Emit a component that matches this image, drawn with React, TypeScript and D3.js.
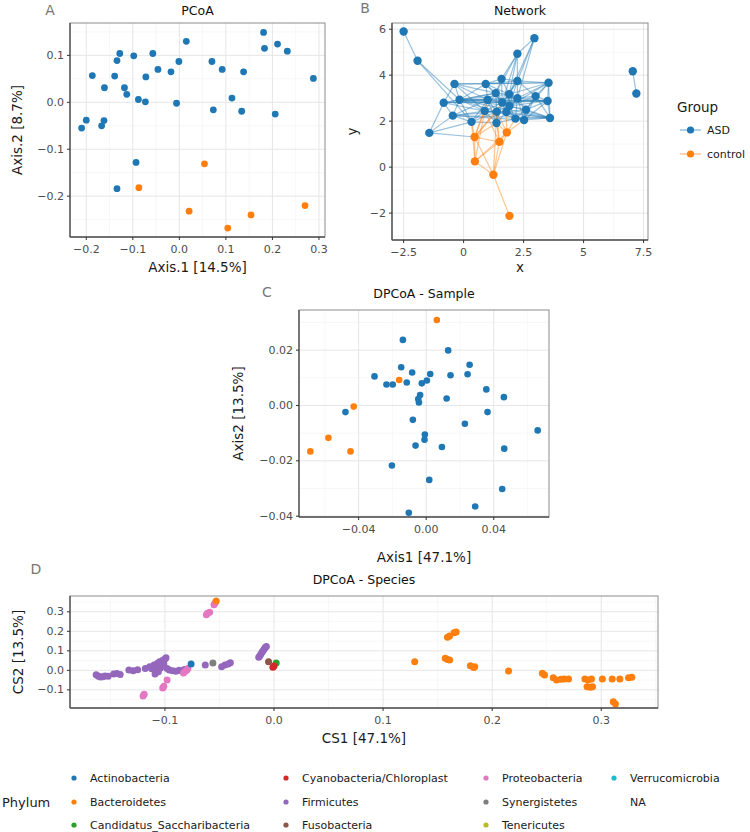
import React from "react";
import * as d3 from "d3";

const BLUE = "#1f77b4";
const ORANGE = "#ff7f0e";
const FONT = "DejaVu Sans, sans-serif";

// ---- A: PCoA ----
const pcoaASD: [number, number][] = [
  [-0.21, -0.055], [-0.2, -0.038], [-0.187, 0.057], [-0.167, -0.05], [-0.162, -0.039],
  [-0.161, 0.031], [-0.139, 0.056], [-0.134, 0.089], [-0.128, 0.104], [-0.118, 0.031],
  [-0.113, 0.017], [-0.098, 0.099], [-0.088, 0.006], [-0.073, 0.001], [-0.072, 0.054],
  [-0.057, 0.104], [-0.046, 0.07], [-0.018, 0.065], [-0.006, -0.002], [-0.001, 0.087],
  [0.015, 0.13], [0.07, 0.087], [0.073, -0.016], [0.092, 0.07], [0.113, 0.009],
  [0.134, -0.019], [0.138, 0.065], [0.181, 0.149], [0.183, 0.115], [0.206, -0.025],
  [0.211, 0.124], [0.232, 0.109], [0.288, 0.051], [-0.093, -0.128], [-0.134, -0.184],
];
const pcoaControl: [number, number][] = [
  [-0.087, -0.182], [0.054, -0.131], [0.021, -0.232], [0.104, -0.268], [0.154, -0.24], [0.27, -0.22],
];
const pcoaXTicks = [-0.2, -0.1, 0, 0.1, 0.2, 0.3];
const pcoaYTicks = [-0.2, -0.1, 0, 0.1];

// ---- B: Network ----
const netNodes: [number, number, string][] = [
  [-2.5, 5.9, "ASD"], [-1.92, 4.63, "ASD"], [-1.43, 1.49, "ASD"], [-0.38, 3.62, "ASD"],
  [-0.83, 2.8, "ASD"], [-0.17, 2.93, "ASD"], [-0.45, 2.24, "ASD"], [0.33, 1.97, "ASD"],
  [0.92, 3.62, "ASD"], [1.58, 3.84, "ASD"], [2.24, 3.75, "ASD"], [2.24, 4.93, "ASD"],
  [2.95, 5.61, "ASD"], [3.54, 3.67, "ASD"], [3.0, 3.09, "ASD"], [3.5, 2.88, "ASD"],
  [3.6, 2.14, "ASD"], [1.34, 3.22, "ASD"], [1.9, 3.17, "ASD"], [2.24, 3.0, "ASD"],
  [1.0, 2.93, "ASD"], [1.61, 2.81, "ASD"], [0.88, 2.44, "ASD"], [1.38, 2.41, "ASD"],
  [1.78, 2.4, "ASD"], [2.6, 2.5, "ASD"], [2.52, 2.05, "ASD"], [2.16, 2.11, "ASD"],
  [1.37, 1.92, "ASD"], [1.91, 2.66, "ASD"], [7.05, 4.17, "ASD"], [7.2, 3.2, "ASD"],
  [0.46, 1.31, "control"], [1.8, 1.51, "control"], [1.49, 1.1, "control"],
  [0.47, 0.25, "control"], [1.24, -0.33, "control"], [1.91, -2.12, "control"],
];
const netEdges: [number, number][] = [
  [0, 1], [1, 5], [1, 7], [2, 7], [2, 6], [2, 4], [2, 32],
  [3, 4], [3, 5], [3, 8], [3, 20], [3, 17], [3, 22], [3, 13],
  [4, 5], [4, 6], [4, 20], [4, 17], [4, 22], [4, 21], [4, 15],
  [5, 6], [5, 7], [5, 8], [5, 20], [5, 17], [5, 18], [5, 21], [5, 22], [5, 23], [5, 29], [5, 19], [5, 15], [5, 16],
  [6, 7], [6, 22], [6, 20], [6, 23], [6, 16], [6, 26],
  [7, 22], [7, 28], [7, 23], [7, 20],
  [8, 9], [8, 17], [8, 20], [8, 21], [8, 18], [8, 10], [8, 13],
  [9, 10], [9, 17], [9, 18], [9, 21], [9, 11],
  [10, 13], [10, 18], [10, 19], [10, 14], [10, 29], [10, 11], [10, 21],
  [11, 12], [11, 18], [11, 17], [11, 21], [12, 18], [12, 19], [12, 10],
  [13, 14], [13, 15], [13, 16], [13, 19], [13, 29], [13, 18], [13, 25],
  [14, 15], [14, 16], [14, 19], [14, 25], [14, 29], [14, 26],
  [15, 16], [15, 25], [15, 19], [15, 29], [15, 26], [15, 21],
  [16, 25], [16, 26], [16, 27], [16, 24], [16, 29],
  [17, 18], [17, 20], [17, 21], [17, 22], [17, 23], [17, 29], [17, 24],
  [18, 19], [18, 21], [18, 29], [18, 24], [18, 25],
  [19, 29], [19, 25], [19, 26], [19, 27], [19, 24],
  [20, 21], [20, 22], [20, 23], [20, 28], [20, 15],
  [21, 22], [21, 23], [21, 24], [21, 29], [21, 27], [21, 28],
  [22, 23], [22, 28], [22, 24], [22, 16],
  [23, 24], [23, 28], [23, 27], [23, 29],
  [24, 27], [24, 29], [24, 28], [24, 25], [24, 26],
  [25, 26], [25, 27], [25, 29], [26, 27], [27, 28], [27, 29], [30, 31],
  [32, 22], [32, 23], [32, 28], [32, 21], [32, 20], [32, 7], [32, 34], [32, 36], [32, 35],
  [33, 28], [33, 23], [33, 24], [33, 27], [33, 26], [33, 34], [33, 35], [33, 36],
  [34, 28], [34, 23], [34, 22], [34, 35], [34, 36],
  [35, 36], [35, 7], [35, 22], [36, 37], [36, 23],
];
const netXTicks = [-2.5, 0, 2.5, 5, 7.5];
const netYTicks = [-2, 0, 2, 4, 6];
const groups = ["ASD", "control"];

// ---- C: DPCoA - Sample ----
const dpcoaASD: [number, number][] = [
  [-0.0478, -0.0024], [-0.0306, 0.0105], [-0.0235, 0.0076], [-0.0198, 0.0076], [-0.0203, -0.0217],
  [-0.0138, 0.0237], [-0.0148, 0.0138], [-0.0115, 0.0083], [-0.0083, 0.0119], [-0.0079, -0.0052],
  [-0.0063, -0.0145], [-0.0047, 0.0023], [-0.0043, 0.0011], [-0.0036, 0.0038], [-0.0026, 0.008],
  [0.0004, 0.009], [0.0024, 0.0114], [-0.0008, -0.0105], [-0.001, -0.0124], [0.0018, -0.0269],
  [-0.0103, -0.0388], [0.0093, -0.015], [0.013, 0.0199], [0.0144, 0.0109], [0.0121, 0.0025],
  [0.0245, 0.0113], [0.0257, 0.0147], [0.0229, -0.0066], [0.029, -0.0365], [0.0356, 0.0058],
  [0.0363, -0.0024], [0.046, 0.003], [0.0462, -0.0156], [0.045, -0.0302], [0.066, -0.009],
];
const dpcoaControl: [number, number][] = [
  [0.0063, 0.0309], [-0.016, 0.0092], [-0.0429, -0.0004], [-0.0579, -0.0117], [-0.0686, -0.0166], [-0.0448, -0.0166],
];
const dpcoaXTicks = [-0.04, 0, 0.04];
const dpcoaYTicks = [-0.04, -0.02, 0, 0.02];

// ---- D: DPCoA - Species ----
const phyla = [
  "Actinobacteria", "Bacteroidetes", "Candidatus_Saccharibacteria", "Cyanobacteria/Chloroplast",
  "Firmicutes", "Fusobacteria", "Proteobacteria", "Synergistetes", "Tenericutes", "Verrucomicrobia", "NA",
];
const spActinobacteria: [number, number][] = [[-0.076, 0.032]];
const spBacteroidetes: [number, number][] = [
  [-0.053, 0.356], [0.129, 0.044], [0.159, 0.169], [0.161, 0.176], [0.165, 0.193], [0.167, 0.197],
  [0.157, 0.062], [0.159, 0.056], [0.161, 0.053], [0.18, 0.024], [0.183, 0.015], [0.184, 0.019],
  [0.215, -0.003], [0.246, -0.015], [0.248, -0.024], [0.256, -0.038], [0.259, -0.05], [0.263, -0.046],
  [0.266, -0.044], [0.27, -0.044], [0.285, -0.044], [0.288, -0.05], [0.291, -0.044], [0.287, -0.084],
  [0.29, -0.087], [0.292, -0.084], [0.301, -0.044], [0.31, -0.044], [0.317, -0.044], [0.325, -0.038],
  [0.328, -0.036], [0.311, -0.161], [0.313, -0.173],
];
const spCandidatus: [number, number][] = [[0.002, 0.038]];
const spCyanobacteria: [number, number][] = [[-0.001, 0.016], [0.0, 0.022]];
const spFirmicutes: [number, number][] = [
  [-0.163, -0.022], [-0.161, -0.03], [-0.159, -0.034], [-0.157, -0.033], [-0.155, -0.029], [-0.152, -0.03],
  [-0.147, -0.019], [-0.144, -0.016], [-0.141, -0.021], [-0.133, 0.002], [-0.129, -0.002], [-0.125, 0.003],
  [-0.118, 0.01], [-0.114, 0.018], [-0.11, 0.027], [-0.107, 0.035], [-0.105, 0.044], [-0.102, 0.052],
  [-0.1, 0.058], [-0.099, 0.064], [-0.112, 0.008], [-0.108, 0.004], [-0.106, -0.007], [-0.109, -0.019],
  [-0.104, 0.012], [-0.103, 0.022], [-0.101, 0.033], [-0.098, 0.01], [-0.096, 0.002], [-0.093, -0.002],
  [-0.09, -0.005], [-0.087, 0.0], [-0.085, -0.002], [-0.082, 0.004], [-0.08, 0.002],
  [-0.063, 0.027], [-0.048, 0.019], [-0.045, 0.027], [-0.042, 0.033], [-0.04, 0.039],
  [-0.014, 0.067], [-0.013, 0.074], [-0.012, 0.084], [-0.011, 0.093], [-0.01, 0.101], [-0.009, 0.11],
  [-0.008, 0.117], [-0.007, 0.122],
];
const spFusobacteria: [number, number][] = [[-0.005, 0.044]];
const spProteobacteria: [number, number][] = [
  [-0.079, 0.01], [-0.081, -0.004], [-0.083, -0.014], [-0.098, -0.05], [-0.101, -0.082], [-0.102, -0.09],
  [-0.119, -0.122], [-0.12, -0.132], [-0.062, 0.285], [-0.061, 0.292], [-0.059, 0.298], [-0.055, 0.336], [-0.054, 0.345],
];
const spSynergistetes: [number, number][] = [[-0.056, 0.038]];
const speciesByPhylum: [string, [number, number][]][] = [
  ["Firmicutes", spFirmicutes],
  ["Proteobacteria", spProteobacteria],
  ["Bacteroidetes", spBacteroidetes],
  ["Actinobacteria", spActinobacteria],
  ["Synergistetes", spSynergistetes],
  ["Fusobacteria", spFusobacteria],
  ["Candidatus_Saccharibacteria", spCandidatus],
  ["Cyanobacteria/Chloroplast", spCyanobacteria],
];
const speciesXTicks = [-0.1, 0, 0.1, 0.2, 0.3];
const speciesYTicks = [-0.1, 0, 0.1, 0.2, 0.3];

const phylumColor = d3.scaleOrdinal<string, string>().domain(phyla).range(d3.schemeCategory10);
const groupColor = d3.scaleOrdinal<string, string>().domain(groups).range([BLUE, ORANGE]);

function minorOf(ticks: number[], dom: [number, number]) {
  const step = ticks[1] - ticks[0];
  const out: number[] = [];
  const lo = Math.min(...dom), hi = Math.max(...dom);
  for (let v = ticks[0] - step / 2; v >= lo; v -= step) out.push(v);
  for (let v = ticks[0] + step / 2; v <= hi; v += step) out.push(v);
  return out;
}

type Box = { l: number; r: number; t: number; b: number };
type PanelProps = {
  box: Box;
  xDomain: [number, number];
  yDomain: [number, number];
  xTicks: number[];
  yTicks: number[];
  xFmt: (v: number) => string;
  yFmt: (v: number) => string;
  title: string;
  titleY: number;
  letter: string;
  letterX: number;
  letterY: number;
  xTitle: string;
  xTitleY: number;
  yTitle: string;
  yTitleX: number;
  render: (x: d3.ScaleLinear<number, number>, y: d3.ScaleLinear<number, number>) => React.ReactNode;
};

function Panel(p: PanelProps) {
  const { box } = p;
  const x = d3.scaleLinear().domain(p.xDomain).range([box.l, box.r]);
  const y = d3.scaleLinear().domain(p.yDomain).range([box.b, box.t]);
  const xMinor = minorOf(p.xTicks, p.xDomain);
  const yMinor = minorOf(p.yTicks, p.yDomain);
  const cx = (box.l + box.r) / 2;
  const cy = (box.t + box.b) / 2;
  const clipId = "clip-" + p.letter;
  return (
    <g>
      <clipPath id={clipId}>
        <rect x={box.l} y={box.t} width={box.r - box.l} height={box.b - box.t} />
      </clipPath>
      <rect x={box.l} y={box.t} width={box.r - box.l} height={box.b - box.t} fill="#fff" />
      {xMinor.map((v) => (
        <line key={"xm" + v} x1={x(v)} x2={x(v)} y1={box.t} y2={box.b} stroke="#f2f2f2" strokeWidth={0.6} />
      ))}
      {yMinor.map((v) => (
        <line key={"ym" + v} y1={y(v)} y2={y(v)} x1={box.l} x2={box.r} stroke="#f2f2f2" strokeWidth={0.6} />
      ))}
      {p.xTicks.map((v) => (
        <line key={"xg" + v} x1={x(v)} x2={x(v)} y1={box.t} y2={box.b} stroke="#e6e6e6" strokeWidth={1} />
      ))}
      {p.yTicks.map((v) => (
        <line key={"yg" + v} y1={y(v)} y2={y(v)} x1={box.l} x2={box.r} stroke="#e6e6e6" strokeWidth={1} />
      ))}
      <g clipPath={`url(#${clipId})`}>{p.render(x, y)}</g>
      <rect x={box.l} y={box.t} width={box.r - box.l} height={box.b - box.t} fill="none" stroke="#8c8c8c" strokeWidth={1} />
      <line x1={box.l} x2={box.l} y1={box.t} y2={box.b} stroke="#555" strokeWidth={1.4} />
      <line x1={box.l} x2={box.r} y1={box.b} y2={box.b} stroke="#555" strokeWidth={1.4} />
      {p.xTicks.map((v) => (
        <g key={"xt" + v}>
          <line x1={x(v)} x2={x(v)} y1={box.b} y2={box.b + 3} stroke="#333" />
          <text x={x(v)} y={box.b + 12} textAnchor="middle" dominantBaseline="central" fontSize={11} fill="#4d4d4d">
            {p.xFmt(v)}
          </text>
        </g>
      ))}
      {p.yTicks.map((v) => (
        <g key={"yt" + v}>
          <line x1={box.l - 3} x2={box.l} y1={y(v)} y2={y(v)} stroke="#333" />
          <text x={box.l - 6} y={y(v)} textAnchor="end" dominantBaseline="central" fontSize={11} fill="#4d4d4d">
            {p.yFmt(v)}
          </text>
        </g>
      ))}
      <text x={cx} y={p.titleY} textAnchor="middle" dominantBaseline="central" fontSize={12.5} fill="#111">
        {p.title}
      </text>
      <text x={p.letterX} y={p.letterY} textAnchor="middle" dominantBaseline="central" fontSize={14} fill="#777">
        {p.letter}
      </text>
      <text x={cx} y={p.xTitleY} textAnchor="middle" dominantBaseline="central" fontSize={13.5} fill="#1a1a1a">
        {p.xTitle}
      </text>
      <text
        transform={`translate(${p.yTitleX},${cy}) rotate(-90)`}
        textAnchor="middle"
        dominantBaseline="central"
        fontSize={13.5}
        fill="#1a1a1a"
      >
        {p.yTitle}
      </text>
    </g>
  );
}

const f1 = d3.format(".1f");
const f2 = d3.format(".2f");
const fNet = (v: number) => (Number.isInteger(v) ? d3.format("d")(v) : d3.format(".1f")(v));

export default function App() {
  const legendRows = [778, 802, 825];
  const legendCols = [74, 286, 486, 614];
  return (
    <svg
      width={750}
      height={832}
      style={{ position: "absolute", left: 0, top: 0, background: "#fff" }}
      fontFamily={FONT}
    >
      <rect width={750} height={832} fill="#fff" />

      <Panel
        box={{ l: 70, r: 325, t: 23, b: 237 }}
        xDomain={[-0.235, 0.313]}
        yDomain={[-0.287, 0.169]}
        xTicks={pcoaXTicks}
        yTicks={pcoaYTicks}
        xFmt={f1}
        yFmt={f1}
        title="PCoA"
        titleY={10}
        letter="A"
        letterX={50}
        letterY={10}
        xTitle="Axis.1   [14.5%]"
        xTitleY={267}
        yTitle="Axis.2  [8.7%]"
        yTitleX={17}
        render={(x, y) => (
          <g>
            {pcoaASD.map((d, i) => (
              <circle key={"a" + i} cx={x(d[0])} cy={y(d[1])} r={3.4} fill={BLUE} />
            ))}
            {pcoaControl.map((d, i) => (
              <circle key={"c" + i} cx={x(d[0])} cy={y(d[1])} r={3.4} fill={ORANGE} />
            ))}
          </g>
        )}
      />

      <Panel
        box={{ l: 392, r: 648, t: 23, b: 240 }}
        xDomain={[-2.985, 7.685]}
        yDomain={[-3.17, 6.27]}
        xTicks={netXTicks}
        yTicks={netYTicks}
        xFmt={fNet}
        yFmt={fNet}
        title="Network"
        titleY={10}
        letter="B"
        letterX={365}
        letterY={8}
        xTitle="x"
        xTitleY={267}
        yTitle="y"
        yTitleX={352}
        render={(x, y) => (
          <g>
            {netEdges.map(([a, b], i) => (
              <line
                key={"e" + i}
                x1={x(netNodes[a][0])}
                y1={y(netNodes[a][1])}
                x2={x(netNodes[b][0])}
                y2={y(netNodes[b][1])}
                stroke={groupColor(netNodes[a][2])}
                strokeOpacity={0.45}
                strokeWidth={1.2}
              />
            ))}
            {netNodes.map((d, i) => (
              <circle key={"n" + i} cx={x(d[0])} cy={y(d[1])} r={4.2} fill={groupColor(d[2])} />
            ))}
          </g>
        )}
      />

      <g>
        <text x={677} y={107} dominantBaseline="central" fontSize={13.5} fill="#1a1a1a">
          Group
        </text>
        {groups.map((g, i) => (
          <g key={g}>
            <line x1={680} x2={701} y1={130 + i * 24} y2={130 + i * 24} stroke={groupColor(g)} strokeOpacity={0.45} strokeWidth={1.5} />
            <circle cx={690.5} cy={130 + i * 24} r={3.6} fill={groupColor(g)} />
            <text x={707} y={130 + i * 24} dominantBaseline="central" fontSize={11} fill="#1a1a1a">
              {g}
            </text>
          </g>
        ))}
      </g>

      <Panel
        box={{ l: 299, r: 549, t: 310, b: 517 }}
        xDomain={[-0.0753, 0.0727]}
        yDomain={[-0.0403, 0.0345]}
        xTicks={dpcoaXTicks}
        yTicks={dpcoaYTicks}
        xFmt={f2}
        yFmt={f2}
        title="DPCoA - Sample"
        titleY={293}
        letter="C"
        letterX={267}
        letterY={292}
        xTitle="Axis1   [47.1%]"
        xTitleY={557}
        yTitle="Axis2  [13.5%]"
        yTitleX={238}
        render={(x, y) => (
          <g>
            {dpcoaASD.map((d, i) => (
              <circle key={"a" + i} cx={x(d[0])} cy={y(d[1])} r={3.3} fill={BLUE} />
            ))}
            {dpcoaControl.map((d, i) => (
              <circle key={"c" + i} cx={x(d[0])} cy={y(d[1])} r={3.3} fill={ORANGE} />
            ))}
          </g>
        )}
      />

      <Panel
        box={{ l: 70, r: 658, t: 596, b: 708 }}
        xDomain={[-0.187, 0.352]}
        yDomain={[-0.193, 0.381]}
        xTicks={speciesXTicks}
        yTicks={speciesYTicks}
        xFmt={f1}
        yFmt={f1}
        title="DPCoA - Species"
        titleY={579}
        letter="D"
        letterX={36}
        letterY={569}
        xTitle="CS1   [47.1%]"
        xTitleY={738}
        yTitle="CS2  [13.5%]"
        yTitleX={18}
        render={(x, y) => (
          <g>
            {speciesByPhylum.map(([ph, pts]) =>
              pts.map((d, i) => (
                <circle key={ph + i} cx={x(d[0])} cy={y(d[1])} r={3.5} fill={phylumColor(ph)} />
              ))
            )}
          </g>
        )}
      />

      <g>
        <text x={2} y={legendRows[1]} dominantBaseline="central" fontSize={13} fill="#1a1a1a">
          Phylum
        </text>
        {phyla.map((ph, i) => {
          const col = Math.floor(i / 3);
          const row = i % 3;
          const cx = legendCols[col];
          const cy = legendRows[row];
          return (
            <g key={ph}>
              {ph !== "NA" && <circle cx={cx} cy={cy} r={2.6} fill={phylumColor(ph)} />}
              <text x={cx + 16} y={cy} dominantBaseline="central" fontSize={11} fill="#1a1a1a">
                {ph}
              </text>
            </g>
          );
        })}
      </g>
    </svg>
  );
}
